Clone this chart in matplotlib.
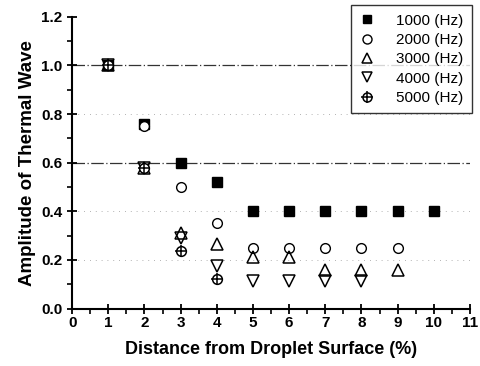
import matplotlib
matplotlib.use("Agg")
import matplotlib.pyplot as plt
from matplotlib.ticker import MultipleLocator
from matplotlib.lines import Line2D

plt.rcParams['font.family'] = ['Liberation Sans', 'DejaVu Sans']

x_1000 = [1, 2, 3, 4, 5, 6, 7, 8, 9, 10]
y_1000 = [1.0, 0.76, 0.60, 0.52, 0.40, 0.40, 0.40, 0.40, 0.40, 0.40]
x_2000 = [1, 2, 3, 4, 5, 6, 7, 8, 9]
y_2000 = [1.0, 0.75, 0.50, 0.35, 0.25, 0.25, 0.25, 0.25, 0.25]
x_3000 = [1, 2, 3, 4, 5, 6, 7, 8, 9]
y_3000 = [1.0, 0.58, 0.31, 0.265, 0.21, 0.21, 0.16, 0.16, 0.16]
x_4000 = [1, 2, 3, 4, 5, 6, 7, 8]
y_4000 = [1.0, 0.58, 0.29, 0.175, 0.115, 0.115, 0.115, 0.115]
x_5000 = [1, 2, 3, 4]
y_5000 = [1.0, 0.58, 0.235, 0.12]

labels = ['1000 (Hz)', '2000 (Hz)', '3000 (Hz)', '4000 (Hz)', '5000 (Hz)']
grid_levels = [0.2, 0.4, 0.6, 0.8, 1.0]

fig = plt.figure(figsize=(4.81, 3.66), dpi=100)
ax = fig.add_axes([0.150, 0.157, 0.827, 0.797])

for g in grid_levels:
    strong = g in (0.6, 1.0)
    ax.axhline(g, color='#333333' if strong else '#999999', lw=0.9 if strong else 0.6,
               ls=(0, (10, 2, 1, 2)) if strong else (0, (1, 6)), zorder=0)

ms = 7
ax.plot(x_1000, y_1000, ls='none', marker='s', ms=ms - 0.5, mfc='black', mec='black', label=labels[0])
ax.plot(x_2000, y_2000, ls='none', marker='o', ms=ms, mfc='white', mec='black', mew=1.0, label=labels[1])
ax.plot(x_3000, y_3000, ls='none', marker='^', ms=ms + 1, mfc='none', mec='black', mew=1.1, label=labels[2])
ax.plot(x_4000, y_4000, ls='none', marker='v', ms=ms + 1, mfc='none', mec='black', mew=1.1, label=labels[3])
ax.plot(x_5000, y_5000, ls='none', marker='o', ms=ms, mfc='white', mec='black', mew=1.1, label=labels[4])
ax.plot(x_5000, y_5000, ls='none', marker='+', ms=ms + 2, mec='black', mew=1.1)

ax.set_xlim(0, 11)
ax.set_ylim(0, 1.2)
ax.xaxis.set_major_locator(MultipleLocator(1))
ax.xaxis.set_minor_locator(MultipleLocator(0.5))
ax.yaxis.set_major_locator(MultipleLocator(0.2))
ax.yaxis.set_minor_locator(MultipleLocator(0.1))
ax.set_yticks([0.0, 0.2, 0.4, 0.6, 0.8, 1.0, 1.2])
ax.set_yticklabels(['0.0', '0.2', '0.4', '0.6', '0.8', '1.0', '1.2'])

for s in ['top', 'right']:
    ax.spines[s].set_visible(False)
for s in ['left', 'bottom']:
    ax.spines[s].set_linewidth(1.5)

ax.tick_params(which='major', direction='inout', length=7, width=1.3, labelsize=11)
ax.tick_params(axis='x', which='major', pad=2)
ax.tick_params(which='minor', direction='out', length=3.5, width=1.2)
for lbl in ax.get_xticklabels() + ax.get_yticklabels():
    lbl.set_fontweight('bold')

ax.set_xlabel('Distance from Droplet Surface (%)', fontsize=13, fontweight='bold', labelpad=8)
ax.set_ylabel('Amplitude of Thermal Wave', fontsize=13.5, fontweight='bold', labelpad=4)

handles = [
    Line2D([], [], ls='none', marker='s', ms=6, mfc='black', mec='black'),
    Line2D([], [], ls='none', marker='o', ms=6.5, mfc='white', mec='black'),
    Line2D([], [], ls='none', marker='^', ms=7, mfc='none', mec='black', mew=1.1),
    Line2D([], [], ls='none', marker='v', ms=7, mfc='none', mec='black', mew=1.1),
    (Line2D([], [], ls='none', marker='o', ms=6.5, mfc='white', mec='black', mew=1.1),
     Line2D([], [], ls='none', marker='+', ms=8.5, mec='black', mew=1.1)),
]
leg = fig.legend(handles, labels, loc='upper right', bbox_to_anchor=(0.981, 0.986),
                 fontsize=11, frameon=True, fancybox=False, edgecolor='black',
                 handlelength=1.0, handletextpad=1.4, labelspacing=0.35, borderpad=0.55,
                 borderaxespad=0)
leg.get_frame().set_linewidth(1.0)

fig.savefig('out.png', dpi=100)
